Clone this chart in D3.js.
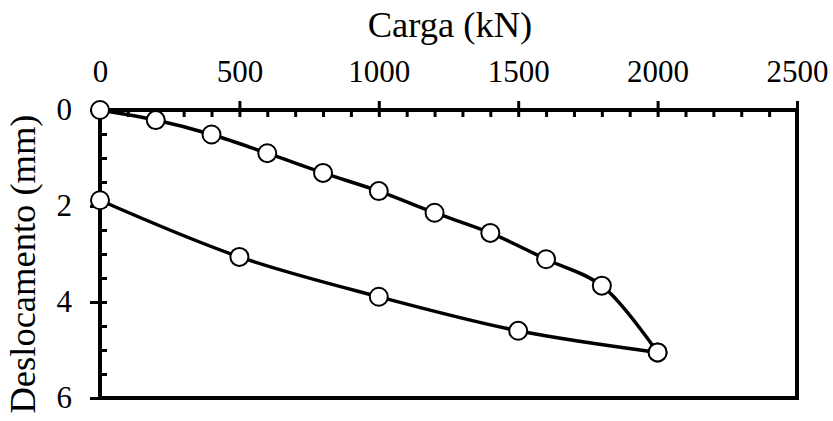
<!DOCTYPE html>
<html>
<head>
<meta charset="utf-8">
<script src="https://cdn.jsdelivr.net/npm/d3@7"></script>
<style>
  body { margin: 0; background: #fff; }
  text { font-family: "Liberation Serif", "Times New Roman", serif; fill: #000; }
</style>
</head>
<body>
<svg id="chart" width="833" height="421"></svg>
<script>
// load path (carregamento)
var loadX = [0, 200, 400, 600, 800, 1000, 1200, 1400, 1600, 1800, 2000];
var loadY = [0, 0.21, 0.51, 0.9, 1.31, 1.69, 2.14, 2.56, 3.11, 3.66, 5.05];
// unload path (descarregamento)
var unloadX = [2000, 1500, 1000, 500, 0];
var unloadY = [5.05, 4.6, 3.89, 3.06, 1.88];

var xTicks = [0, 500, 1000, 1500, 2000, 2500];
var yTicks = [0, 2, 4, 6];
var xMinor = d3.range(0, 2501, 100);
var yMinor = d3.range(0, 6.01, 0.5);

var svg = d3.select("#chart");
var plotL = 100, plotR = 797, plotT = 110, plotB = 398;

var x = d3.scaleLinear().domain([0, 2500]).range([plotL, plotR]);
var y = d3.scaleLinear().domain([0, 6]).range([plotT, plotB]);

//minor ticks pointing into the plot
svg.append("g")
    .attr("transform", "translate(0," + plotT + ")")
    .call(d3.axisBottom(x).tickValues(xMinor).tickSize(7).tickSizeOuter(0).tickFormat(""))
    .call(g => g.select(".domain").remove())
    .call(g => g.selectAll("line").attr("stroke-width", 3));
svg.append("g")
    .attr("transform", "translate(" + plotL + ",0)")
    .call(d3.axisRight(y).tickValues(yMinor).tickSize(7).tickSizeOuter(0).tickFormat(""))
    .call(g => g.select(".domain").remove())
    .call(g => g.selectAll("line").attr("stroke-width", 3));

//major ticks and labels on the outside
svg.append("g")
    .attr("transform", "translate(0," + plotT + ")")
    .call(d3.axisTop(x).tickValues(xTicks).tickSize(9).tickPadding(19).tickSizeOuter(0).tickFormat(d3.format("d")))
    .call(g => g.select(".domain").remove())
    .call(g => g.selectAll("line").attr("stroke-width", 3))
    .call(g => g.selectAll("text").attr("font-size", 31).attr("font-family", "Liberation Serif"));
svg.append("g")
    .attr("transform", "translate(" + plotL + ",0)")
    .call(d3.axisLeft(y).tickValues(yTicks).tickSize(10).tickPadding(18).tickSizeOuter(0).tickFormat(d3.format("d")))
    .call(g => g.select(".domain").remove())
    .call(g => g.selectAll("line").attr("stroke-width", 3))
    .call(g => g.selectAll("text").attr("font-size", 31).attr("font-family", "Liberation Serif"));

//plot frame
svg.append("rect")
    .attr("x", plotL)
    .attr("y", plotT)
    .attr("width", plotR - plotL)
    .attr("height", plotB - plotT)
    .attr("fill", "none")
    .attr("stroke", "black")
    .attr("stroke-width", 4);

//axis titles
svg.append("text")
    .attr("x", 450)
    .attr("y", 37)
    .attr("text-anchor", "middle")
    .attr("font-size", 36.5)
    .text("Carga (kN)");
svg.append("text")
    .attr("transform", "translate(35,264) rotate(-90)")
    .attr("text-anchor", "middle")
    .attr("font-size", 36.5)
    .text("Deslocamento (mm)");

//curves
var line = d3.line()
    .x(d => x(d[0]))
    .y(d => y(d[1]))
    .curve(d3.curveCatmullRom.alpha(0.5));

var series = [
    d3.zip(loadX, loadY),
    d3.zip(unloadX, unloadY)
];

series.forEach(pts => {
    svg.append("path")
        .datum(pts)
        .attr("d", line)
        .attr("fill", "none")
        .attr("stroke", "black")
        .attr("stroke-width", 3.5);
});

series.forEach(pts => {
    svg.selectAll(null)
        .data(pts).enter()
        .append("circle")
        .attr("cx", d => x(d[0]))
        .attr("cy", d => y(d[1]))
        .attr("r", 9)
        .attr("fill", "white")
        .attr("stroke", "black")
        .attr("stroke-width", 2);
});
</script>
</body>
</html>
